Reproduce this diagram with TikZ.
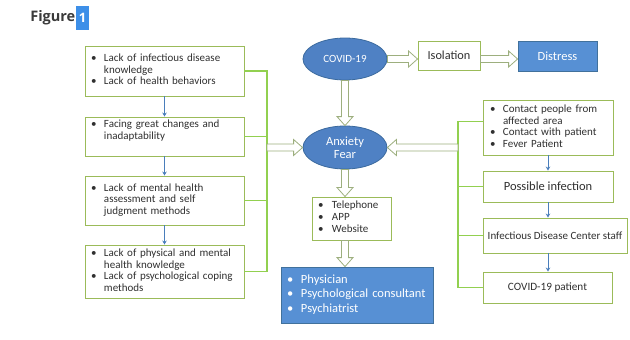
\documentclass[tikz,border=0pt]{standalone}
\usepackage{fontspec}
\setmainfont{Carlito}
\newfontfamily\headfont{Open Sans}
\usetikzlibrary{arrows.meta,shapes.geometric,calc}

\definecolor{boxgreen}{HTML}{9BBB59}
\definecolor{brkgreen}{HTML}{92D050}
\definecolor{hollowc}{HTML}{9DAF7E}
\definecolor{arrowblue}{HTML}{4A7EBB}
\definecolor{ellfill}{HTML}{4F81C4}
\definecolor{elldraw}{HTML}{3B6A9E}
\definecolor{blockblue}{HTML}{5790D4}
\definecolor{blockdraw}{HTML}{41719C}
\definecolor{txtgray}{HTML}{303030}
\definecolor{titlegray}{HTML}{3A3A3A}
\definecolor{hlblue}{HTML}{3D8FE8}

% bullet list set as a two-column table: bullet, then text
\newcommand{\blist}[2]{{\renewcommand{\arraystretch}{1}%
  \begin{tabular}{@{}p{#1}@{}l@{}}#2\end{tabular}}}

% hollow block arrow from one anchor to another
\newcommand{\hollowarrow}[2]{%
  \path #1 coordinate (ha) #2 coordinate (hb);
  \path let \p1=($(hb)-(ha)$) in \pgfextra{%
    \pgfmathparse{veclen(\x1,\y1)}\xdef\hwlen{\pgfmathresult}%
    \pgfmathparse{atan2(\y1,\x1)}\xdef\hwang{\pgfmathresult}};
  \draw[hollow, shift={(ha)}, rotate=\hwang]
    (0,3.5) -- ({\hwlen-9},3.5) -- ({\hwlen-9},8) -- (\hwlen,0)
    -- ({\hwlen-9},-8) -- ({\hwlen-9},-3.5) -- (0,-3.5) -- cycle;}

\tikzset{
  gbox/.style={draw=boxgreen, line width=0.9pt, fill=white, text=txtgray,
    inner xsep=6pt, inner ysep=0pt, align=left},
  cbox/.style={draw=boxgreen, line width=0.9pt, fill=white, text=txtgray,
    inner sep=0pt, align=center},
  bbox/.style={draw=blockdraw, line width=0.8pt, fill=blockblue, text=white,
    inner xsep=6pt, inner ysep=0pt, align=left},
  ell/.style={ellipse, draw=elldraw, line width=0.8pt, fill=ellfill,
    text=white, inner sep=0pt, align=center, minimum width=84pt},
  hollow/.style={draw=hollowc, line width=0.8pt, fill=white, line join=miter},
  barrow/.style={draw=arrowblue, line width=1pt, -{Stealth[length=4pt, width=4.5pt]}},
  brk/.style={draw=brkgreen, line width=1.1pt},
  sz/.style={font=\fontsize{#1}{11.6}\selectfont}
}

\begin{document}
\begin{tikzpicture}[x=1pt, y=-1pt]
\useasboundingbox (0,0) rectangle (630,340);

% heading
\node[font=\headfont\bfseries\fontsize{14.5}{16}\selectfont, text=titlegray,
  anchor=east, inner sep=0pt] (fig) at (75.5,18) {Figure};
\node[fill=hlblue, text=white, font=\headfont\bfseries\fontsize{13}{15}\selectfont,
  minimum width=13pt, minimum height=24pt, inner sep=0pt] (fignum) at (82.5,17.5) {1};

% left column of causes
\node[gbox, sz=11, minimum width=159pt, text width=147pt, minimum height=50pt] (L1) at (164.5,71)
  {\blist{13pt}{\textbullet & Lack of infectious disease\\ & knowledge\\ \textbullet & Lack of health behaviors}};
\node[gbox, sz=11, minimum width=159pt, text width=147pt, minimum height=39pt] (L2) at (164.5,136.5)
  {\blist{13pt}{\textbullet & Facing great changes and\\ & inadaptability}\rule[-19pt]{0pt}{1pt}};
\node[gbox, sz=11, minimum width=159pt, text width=147pt, minimum height=49pt] (L3) at (164.5,200.5)
  {\blist{13pt}{\textbullet & Lack of mental health\\ & assessment and self\\ & judgment methods}};
\node[gbox, sz=11, minimum width=159pt, text width=147pt, minimum height=53pt] (L4) at (164.5,271.5)
  {\blist{13pt}{\textbullet & Lack of physical and mental\\ & health knowledge\\ \textbullet & Lack of psychological coping\\ & methods}};

% centre
\node[ell, minimum height=42pt, font=\fontsize{11}{12}\selectfont] (cov) at (345,59) {COVID-19};
\node[ell, minimum height=43pt, font=\fontsize{12.5}{14}\selectfont] (anx) at (345,147.5) {Anxiety\\[-1pt]Fear};
\node[cbox, minimum width=62pt, minimum height=29pt, font=\fontsize{12.3}{14}\selectfont] (iso) at (449,55.5) {Isolation};
\node[bbox, align=center, minimum width=79pt, minimum height=30pt, font=\fontsize{12.5}{14}\selectfont] (dis) at (557.5,56) {Distress};
\node[gbox, sz=11, minimum width=79pt, text width=67pt, minimum height=43pt, font=\fontsize{11}{12}\selectfont] (tel) at (351.5,218.5)
  {\blist{14pt}{\textbullet & Telephone\\ \textbullet & APP\\ \textbullet & Website}};
\node[bbox, minimum width=152pt, text width=140pt, minimum height=56pt, font=\fontsize{12.5}{14.5}\selectfont] (phy) at (357,295)
  {\blist{14pt}{\textbullet & Physician\\ \textbullet & Psychological consultant\\ \textbullet & Psychiatrist}};

% right column of exposure groups
\node[gbox, sz=11, minimum width=130pt, text width=116pt, minimum height=55pt, inner xsep=7pt] (R1) at (548,127.5)
  {\blist{13pt}{\textbullet & Contact people from\\ & affected area\\ \textbullet & Contact with patient\\ \textbullet & Fever Patient}};
\node[cbox, minimum width=130pt, minimum height=31pt, font=\fontsize{12.5}{14}\selectfont] (R2) at (548,186.5) {Possible infection};
\node[cbox, minimum width=144pt, minimum height=35pt, font=\fontsize{11}{13}\selectfont] (R3) at (555,235.5) {Infectious Disease Center staff};
\node[cbox, minimum width=129pt, minimum height=31pt, font=\fontsize{11.2}{13}\selectfont] (R4) at (547.5,287.5) {COVID-19 patient};

% thin arrows down the columns
\draw[barrow] (L1.south) -- (L2.north);
\draw[barrow] (L2.south) -- (L3.north);
\draw[barrow] (L3.south) -- (L4.north);
\draw[barrow] (R1.south) -- (R2.north);
\draw[barrow] (R2.south) -- (R3.north -| R2.south);
\draw[barrow] (R3.south -| R2.south) -- (R4.north -| R2.south);

% brackets gathering each column
\coordinate (lb) at (267,0);
\draw[brk] (L1.east) -| (lb |- L4.east) -- (L4.east);
\draw[brk] (L2.east) -- (L2.east -| lb);
\draw[brk] (L3.east) -- (L3.east -| lb);

\coordinate (rb) at (458,0);
\draw[brk] ([yshift=6pt]R1.west) -| (rb |- R4.west) -- (R4.west);
\draw[brk] (R2.west) -- (R2.west -| rb);
\draw[brk] (R3.west) -- (R3.west -| rb);

% hollow block arrows
\hollowarrow{(cov.east)}{(cov.east -| iso.west)}
\hollowarrow{(iso.east |- cov.east)}{(dis.west |- cov.east)}
\hollowarrow{(cov.south)}{(anx.north)}
\hollowarrow{(lb |- anx.west)}{(anx.west)}
\hollowarrow{(rb |- anx.east)}{(anx.east)}
\hollowarrow{(anx.south)}{(anx.south |- tel.north)}
\hollowarrow{(tel.south -| anx.south)}{(phy.north -| anx.south)}
\end{tikzpicture}
\end{document}
